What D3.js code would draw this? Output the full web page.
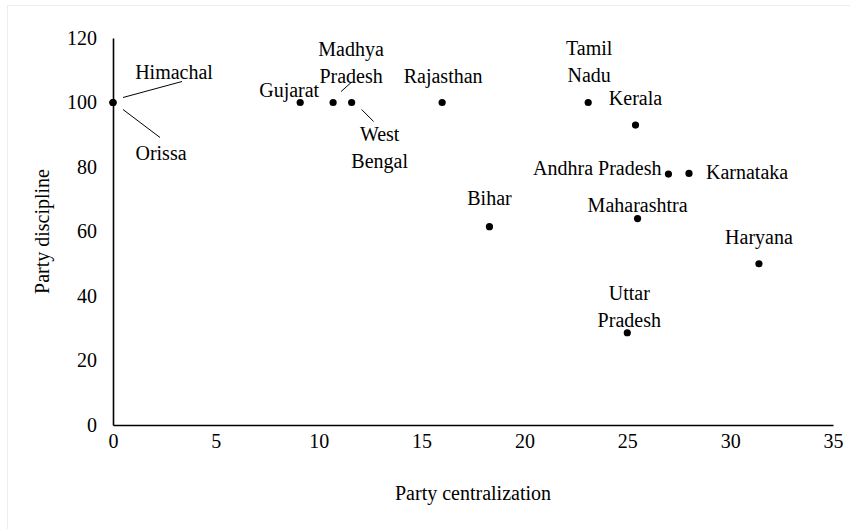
<!DOCTYPE html>
<html>
<head>
<meta charset="utf-8">
<script src="https://cdn.jsdelivr.net/npm/d3@7"></script>
<style>
  body { margin: 0; background: #fff; }
  svg text { font-family: "Liberation Serif", "Times New Roman", serif !important; fill: #000; }
</style>
</head>
<body>
<svg></svg>
<script>
const states = ['Himachal', 'Orissa', 'Gujarat', 'Madhya Pradesh', 'West Bengal', 'Rajasthan',
  'Tamil Nadu', 'Kerala', 'Andhra Pradesh', 'Karnataka', 'Bihar', 'Maharashtra', 'Haryana', 'Uttar Pradesh'];
const centralization = [0, 0, 9.1, 10.7, 11.6, 16.0, 23.1, 25.4, 27.0, 28.0, 18.3, 25.5, 31.4, 25.0];
const discipline = [100, 100, 100, 100, 100, 100, 100, 93, 77.8, 78, 61.5, 64, 50, 28.6];
const xTicks = [0, 5, 10, 15, 20, 25, 30, 35];
const yTicks = [0, 20, 40, 60, 80, 100, 120];

// label placement, pixels relative to each point
const labelLayout = {
  'Himachal': { lines: ['Himachal'], dx: 61, dy: -31, anchor: 'middle', leader: [10, -5, 69, -21] },
  'Orissa': { lines: ['Orissa'], dx: 48, dy: 50, anchor: 'middle', leader: [10, 7, 47, 35] },
  'Gujarat': { lines: ['Gujarat'], dx: -11, dy: -13, anchor: 'middle' },
  'Madhya Pradesh': { lines: ['Madhya', 'Pradesh'], dx: 18, dy: -54, anchor: 'middle', leader: [8, -11, 18, -20] },
  'West Bengal': { lines: ['West', 'Bengal'], dx: 28, dy: 31, anchor: 'middle', leader: [10, 7, 22, 19] },
  'Rajasthan': { lines: ['Rajasthan'], dx: 1, dy: -27, anchor: 'middle' },
  'Tamil Nadu': { lines: ['Tamil', 'Nadu'], dx: 1, dy: -55, anchor: 'middle' },
  'Kerala': { lines: ['Kerala'], dx: 0, dy: -27, anchor: 'middle' },
  'Andhra Pradesh': { lines: ['Andhra Pradesh'], dx: -7, dy: -6, anchor: 'end' },
  'Karnataka': { lines: ['Karnataka'], dx: 17, dy: -1, anchor: 'start' },
  'Bihar': { lines: ['Bihar'], dx: 0, dy: -29, anchor: 'middle' },
  'Maharashtra': { lines: ['Maharashtra'], dx: 0, dy: -14, anchor: 'middle' },
  'Haryana': { lines: ['Haryana'], dx: 0, dy: -27, anchor: 'middle' },
  'Uttar Pradesh': { lines: ['Uttar', 'Pradesh'], dx: 2, dy: -40, anchor: 'middle' }
};

const svgWidth = 850;
const svgHeight = 529;
const lineGap = 27;
const serif = '"Liberation Serif", "Times New Roman", serif';

const svg = d3.select('svg')
  .attr('width', svgWidth)
  .attr('height', svgHeight)
  .attr('font-family', serif);

svg.append('rect')
  .attr('x', 7.5).attr('y', 5.5)
  .attr('width', 900).attr('height', 600)
  .attr('fill', '#fff')
  .attr('stroke', '#ededed');

const xScale = d3.scaleLinear().domain([0, 35]).range([113, 833]);
const yScale = d3.scaleLinear().domain([0, 120]).range([425, 38]);

// axes
const xAxis = svg.append('g')
  .attr('transform', `translate(0, ${yScale(0)})`)
  .call(d3.axisBottom(xScale).tickValues(xTicks).tickSize(0).tickPadding(9));
const yAxis = svg.append('g')
  .attr('transform', `translate(${xScale(0)}, 0)`)
  .call(d3.axisLeft(yScale).tickValues(yTicks).tickSize(0).tickPadding(16));

[xAxis, yAxis].forEach((ax) => {
  ax.attr('font-family', serif);
  ax.select('.domain').attr('stroke', '#000').attr('stroke-width', 1.6);
  ax.selectAll('text')
    .attr('font-size', 20)
    .attr('font-family', serif)
    .attr('fill', '#000');
});

// points
const points = states.map((s, i) => ({ state: s, x: centralization[i], y: discipline[i] }));

svg.append('g')
  .selectAll('circle')
  .data(points)
  .enter()
  .append('circle')
  .attr('cx', (d) => xScale(d.x))
  .attr('cy', (d) => yScale(d.y))
  .attr('r', 3.6)
  .attr('fill', '#000');

// labels and leader lines
const labels = svg.append('g');
points.forEach((d) => {
  const lay = labelLayout[d.state];
  const px = xScale(d.x);
  const py = yScale(d.y);
  lay.lines.forEach((line, j) => {
    labels.append('text')
      .attr('x', px + lay.dx)
      .attr('y', py + lay.dy + j * lineGap)
      .attr('dy', '0.35em')
      .attr('text-anchor', lay.anchor)
      .attr('font-family', serif)
      .attr('font-size', 20)
      .text(line);
  });
  if (lay.leader) {
    labels.append('line')
      .attr('x1', px + lay.leader[0]).attr('y1', py + lay.leader[1])
      .attr('x2', px + lay.leader[2]).attr('y2', py + lay.leader[3])
      .attr('stroke', '#000')
      .attr('stroke-width', 1);
  }
});

// axis titles
svg.append('text')
  .attr('x', (xScale(0) + xScale(35)) / 2)
  .attr('y', 493)
  .attr('dy', '0.35em')
  .attr('text-anchor', 'middle')
  .attr('font-family', serif)
  .attr('font-size', 20)
  .text('Party centralization');

svg.append('text')
  .attr('transform', `translate(42, ${(yScale(0) + yScale(120)) / 2}) rotate(-90)`)
  .attr('dy', '0.35em')
  .attr('text-anchor', 'middle')
  .attr('font-family', serif)
  .attr('font-size', 20)
  .text('Party discipline');
</script>
</body>
</html>
